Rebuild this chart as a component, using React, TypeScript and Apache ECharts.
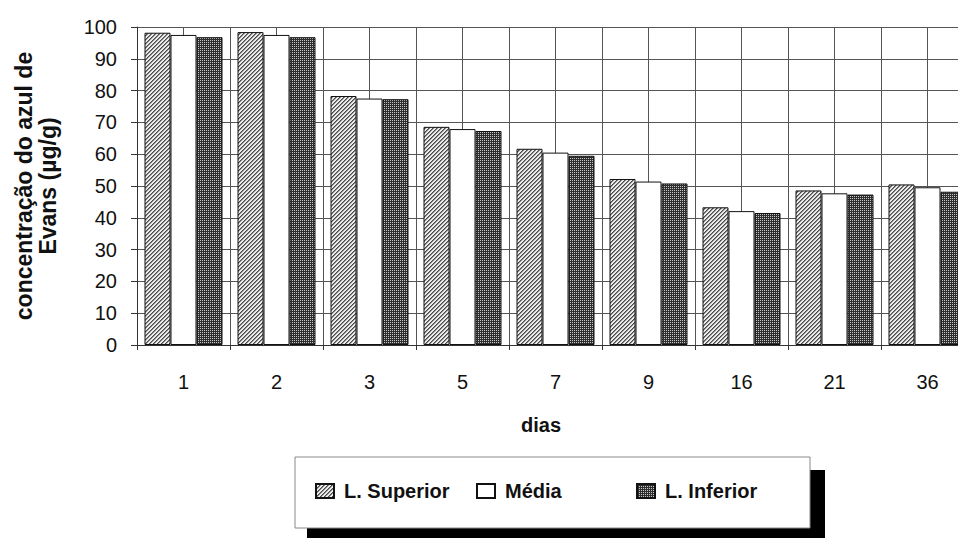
import React, { useEffect, useRef } from "react";
import * as echarts from "echarts";

const categories = ["1", "2", "3", "5", "7", "9", "16", "21", "36"];
const superior = [98.2, 98.4, 78.3, 68.6, 61.7, 52.2, 43.3, 48.6, 50.5];
const media = [97.5, 97.5, 77.5, 67.9, 60.5, 51.4, 42.1, 47.7, 49.6];
const inferior = [96.8, 96.8, 77.3, 67.3, 59.5, 50.8, 41.5, 47.3, 48.2];
const seriesNames = ["L. Superior", "Média", "L. Inferior"];
const yMin = 0;
const yMax = 100;
const yStep = 10;

const FONT = "'Liberation Sans', Arial, sans-serif";

function makeTile(size: number, colorAt: (x: number, y: number) => string) {
  const c = document.createElement("canvas");
  c.width = size;
  c.height = size;
  const ctx = c.getContext("2d")!;
  for (let y = 0; y < size; y++) {
    for (let x = 0; x < size; x++) {
      ctx.fillStyle = colorAt(x, y);
      ctx.fillRect(x, y, 1, 1);
    }
  }
  return { image: c, repeat: "repeat", imageWidth: size, imageHeight: size } as any;
}

export default function App() {
  const ref = useRef<HTMLDivElement>(null);
  useEffect(() => {
    document.body.style.margin = "0";
    const chart = echarts.init(ref.current!, null, { renderer: "svg" });
    const hatch = makeTile(4, (x, y) => {
      const k = (x + y) % 4;
      return k === 0 ? "#4a4a4a" : k === 1 ? "#8a8a8a" : "#ececec";
    });
    const dots = makeTile(4, (x, y) =>
      x % 2 === 0 && y % 2 === 0 ? "#c8c8c8" : "#2e2e2e"
    );
    const fills = [hatch, "#ffffff", dots];
    const datas = [superior, media, inferior];

    const legendCommon = {
      top: 481,
      padding: 0,
      itemWidth: 18,
      itemHeight: 14,
      selectedMode: false,
      z: 10,
      icon: "rect",
      textStyle: {
        fontFamily: FONT,
        fontSize: 20,
        fontWeight: "bold",
        color: "#111",
        padding: [0, 0, 0, 5],
      },
    };

    chart.setOption({
      animation: false,
      backgroundColor: "#ffffff",
      grid: {
        left: 137,
        top: 27,
        width: 837,
        height: 318,
        outerBoundsMode: "none",
        containLabel: false,
      },
      xAxis: [
        {
          type: "category",
          data: categories,
          boundaryGap: true,
          axisLine: { lineStyle: { color: "#333", width: 1 } },
          axisTick: { show: true, length: 5, lineStyle: { color: "#333" } },
          axisLabel: { margin: 27, fontFamily: FONT, fontSize: 20, color: "#111" },
          splitLine: { show: false },
        },
        {
          type: "value",
          min: 0,
          max: 18,
          interval: 1,
          position: "bottom",
          axisLine: { show: false },
          axisTick: { show: false },
          axisLabel: { show: false },
          splitLine: { show: true, lineStyle: { color: "#555", width: 1 } },
        },
      ],
      yAxis: {
        type: "value",
        min: yMin,
        max: yMax,
        interval: yStep,
        name: "concentração do azul de\nEvans (µg/g)",
        nameLocation: "middle",
        nameGap: 77,
        nameTextStyle: {
          fontFamily: FONT,
          fontSize: 23,
          fontWeight: "bold",
          color: "#111",
          lineHeight: 24,
        },
        axisLine: { show: true, lineStyle: { color: "#333", width: 1 } },
        axisTick: { show: true, length: 6, lineStyle: { color: "#333" } },
        axisLabel: { margin: 20, fontFamily: FONT, fontSize: 20, color: "#111" },
        splitLine: { show: true, lineStyle: { color: "#555", width: 1 } },
      },
      legend: [
        { ...legendCommon, data: [seriesNames[0]], left: 315 },
        { ...legendCommon, data: [seriesNames[1]], left: 476 },
        { ...legendCommon, data: [seriesNames[2]], left: 636 },
      ],
      graphic: [
        {
          type: "rect",
          z: 1,
          shape: { x: 307, y: 470, width: 518, height: 80 },
          style: { fill: "#000" },
          silent: true,
        },
        {
          type: "rect",
          z: 2,
          shape: { x: 295, y: 457, width: 515, height: 71 },
          style: { fill: "#fff", stroke: "#888", lineWidth: 1 },
          silent: true,
        },
        {
          type: "text",
          z: 3,
          x: 541,
          y: 425,
          style: {
            text: "dias",
            fontFamily: FONT,
            fontSize: 20,
            fontWeight: "bold",
            fill: "#111",
            align: "center",
            verticalAlign: "middle",
          },
        },
      ],
      series: seriesNames.map((name, i) => ({
        type: "bar",
        name,
        data: datas[i],
        xAxisIndex: 0,
        barWidth: 26,
        barGap: "0%",
        itemStyle: { color: fills[i], borderColor: "#111", borderWidth: 1 },
      })),
    });
    return () => chart.dispose();
  }, []);
  return <div ref={ref} style={{ width: 958, height: 538 }} />;
}
